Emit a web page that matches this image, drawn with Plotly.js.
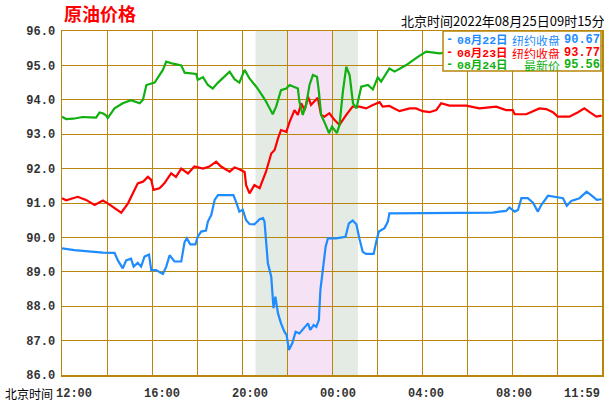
<!DOCTYPE html>
<html>
<head>
<meta charset="utf-8">
<script src="https://cdn.plot.ly/plotly-3.0.1.min.js"></script>
<style>
html,body{margin:0;padding:0;background:#fff;}
#chart{width:613px;height:410px;}
</style>
</head>
<body>
<div id="chart"></div>
<script>
// ---- data (times are minutes after 12:00 Beijing time) ----
const chartTitle = "原油价格";
const stampText = "北京时间2022年08月25日09时15分";
const axisCaption = "北京时间";
const tickMinutes = [0, 240, 480, 720, 960, 1200, 1440];
const tickLabels = ["12:00", "16:00", "20:00", "00:00", "04:00", "08:00", "11:59"];

const seriesDates = ["08月22日", "08月23日", "08月24日"];
const seriesKinds = ["纽约收盘", "纽约收盘", "最新价"];
const seriesQuotes = ["90.67", "93.77", "95.56"];

const day22Times = [0,33,109,140,149,162,171,184,191,202,211,220,232,238,251,269,278,287,300,318,327,333,342,356,362,371,384,389,398,407,416,457,464,473,482,491,500,513,527,536,540,544,549,558,562,564,569,576,584,593,599,605,614,623,633,647,656,662,671,678,685,689,696,703,709,731,756,765,775,785,793,802,811,831,838,845,860,869,873,882,1136,1149,1167,1184,1193,1207,1216,1225,1242,1256,1269,1278,1296,1309,1327,1336,1346,1358,1380,1399,1411,1426,1439];
const day22Values = [89.68,89.63,89.56,89.55,89.33,89.10,89.33,89.38,89.15,89.26,89.15,89.44,89.50,89.05,89.05,88.94,89.15,89.48,89.30,89.30,89.87,89.97,89.80,89.80,90.02,90.17,90.20,90.46,90.65,91.09,91.23,91.23,91.04,90.75,90.80,90.50,90.39,90.38,90.53,90.56,90.46,89.83,89.25,88.86,88.37,87.94,88.28,87.79,87.50,87.26,87.16,86.73,86.92,87.26,87.21,87.40,87.50,87.31,87.45,87.40,87.60,88.47,89.15,89.73,89.97,89.97,90.02,90.41,90.49,90.38,89.97,89.58,89.52,89.52,89.87,90.17,90.27,90.46,90.70,90.70,90.70,90.72,90.75,90.77,90.87,90.75,90.80,91.14,91.14,91.01,90.75,90.94,91.21,91.18,91.16,91.14,90.92,91.06,91.14,91.33,91.23,91.09,91.11];

const day23Times = [0,11,42,64,87,109,122,140,158,176,189,202,216,229,238,244,260,273,291,304,318,336,353,376,393,411,424,447,460,473,487,491,500,513,527,544,558,567,576,584,598,607,620,629,638,647,656,664,682,691,700,713,727,740,758,775,793,811,829,847,855,873,900,927,944,962,980,998,1011,1033,1078,1096,1113,1158,1184,1202,1207,1238,1256,1273,1291,1309,1322,1353,1376,1393,1407,1425,1439];
const day23Values = [91.14,91.08,91.18,91.09,90.94,91.07,90.99,90.85,90.72,90.99,91.28,91.57,91.62,91.76,91.67,91.38,91.43,91.57,91.86,91.76,92.00,91.86,92.06,92.00,92.06,92.20,92.06,91.91,92.03,91.98,91.90,91.52,91.28,91.52,91.43,91.91,92.44,92.54,92.88,93.12,93.07,93.36,93.70,93.56,93.90,93.70,94.09,93.85,94.06,93.56,93.51,93.61,93.41,93.27,93.56,93.80,93.80,93.75,93.85,93.93,93.80,93.82,93.67,93.75,93.75,93.67,93.64,93.70,93.90,93.83,93.83,93.78,93.75,93.80,93.70,93.70,93.58,93.58,93.67,93.75,93.73,93.64,93.51,93.51,93.64,93.75,93.64,93.51,93.54];

const day24Times = [0,11,30,55,75,91,100,110,118,122,140,162,184,200,207,216,225,247,260,269,278,296,318,327,358,362,376,389,402,416,447,460,473,487,500,518,536,544,562,571,584,598,607,629,633,642,651,660,669,680,685,691,703,712,720,733,740,749,758,767,776,785,798,816,829,842,851,873,887,918,949,971,1007,1040,1100,1160,1220,1300,1380,1439];
const day24Values = [93.51,93.44,93.45,93.50,93.49,93.48,93.63,93.60,93.54,93.47,93.75,93.90,93.99,93.93,93.90,94.00,94.43,94.50,94.70,94.87,95.11,95.05,95.00,94.79,94.75,94.58,94.66,94.43,94.33,94.50,94.82,94.60,94.50,94.87,94.62,94.38,94.09,93.95,93.58,93.80,94.28,94.33,94.43,94.33,93.95,93.56,93.85,94.43,94.72,94.67,94.24,93.56,93.27,93.03,93.22,93.03,93.27,94.24,94.96,94.72,93.90,93.75,94.38,94.43,94.30,94.65,94.53,94.91,94.82,95.01,95.25,95.40,95.35,95.40,95.45,95.50,95.48,95.52,95.55,95.56];

// night session shading (minutes after 12:00)
const bandStarts = [516, 600, 720];
const bandEnds = [600, 720, 789];

// ---- styling / layout ----
const W = 613, H = 410;
const M = {l: 62, r: 11, t: 31, b: 35};
const PW = W - M.l - M.r, PH = H - M.t - M.b;
const px = x => (x - M.l) / PW;
const py = y => (H - M.b - y) / PH;

const colors = ["#1e8cff", "#ff0000", "#10b010"];
const gold = "#b8860b";
const cjk = "'Noto Sans CJK SC', sans-serif";
const mono = "'Liberation Mono', 'DejaVu Sans Mono', monospace";

const timesList = [day22Times, day23Times, day24Times];
const valuesList = [day22Values, day23Values, day24Values];

const traces = timesList.map((t, i) => ({
  type: "scatter", mode: "lines", x: t, y: valuesList[i],
  line: {color: colors[i], width: 2.2}, hoverinfo: "skip", showlegend: false
}));

const bandColors = ["#e4ebe4", "#f5e2f5", "#e4ebe4"];
const shapes = bandStarts.map((s, i) => ({
  type: "rect", xref: "x", yref: "paper", x0: s, x1: bandEnds[i], y0: 0, y1: 1,
  fillcolor: bandColors[i], line: {width: 0}, layer: "below"
}));
shapes.push({
  type: "rect", xref: "paper", yref: "paper", x0: px(443), x1: px(601), y0: py(71), y1: py(31),
  fillcolor: "#ffffff", line: {color: gold, width: 1.5}, layer: "above"
});

const annotations = [];
annotations.push({xref: "paper", yref: "paper", x: px(607), y: py(21), xanchor: "right", yanchor: "middle",
  text: stampText, showarrow: false, font: {family: cjk, size: 13, color: "#000"}});
annotations.push({xref: "paper", yref: "paper", x: px(3), y: py(393), xanchor: "left", yanchor: "middle",
  text: axisCaption, showarrow: false, font: {family: cjk, size: 12, color: "#000"}});
tickLabels.forEach((lab, i) => {
  const last = i === tickLabels.length - 1;
  annotations.push({xref: "x", yref: "paper", x: tickMinutes[i], y: py(394),
    xanchor: last ? "right" : "center", yanchor: "middle", xshift: last ? 0 : 12 - 2 * i,
    text: lab, showarrow: false, font: {family: mono, size: 12, color: "#333", weight: "bold"}});
});
const rowY = [39.5, 52.5, 65.5];
seriesDates.forEach((d, i) => {
  const common = {xref: "paper", yref: "paper", y: py(rowY[i]), yanchor: "middle", showarrow: false,
    height: 12, borderpad: 0};
  annotations.push(Object.assign({}, common, {x: px(445), xanchor: "left", text: "-",
    font: {family: mono, size: 12, color: colors[i], weight: "bold"}}));
  annotations.push(Object.assign({}, common, {x: px(456), xanchor: "left", text: d,
    font: {family: mono + ", " + cjk, size: 11.5, color: colors[i], weight: "bold"}}));
  annotations.push(Object.assign({}, common, {x: px(561), xanchor: "right", text: seriesKinds[i],
    font: {family: cjk, size: 12, color: colors[i]}}));
  annotations.push(Object.assign({}, common, {x: px(601), xanchor: "right", text: seriesQuotes[i],
    font: {family: mono, size: 12, color: colors[i], weight: "bold"}}));
});

const layout = {
  width: W, height: H, margin: M,
  paper_bgcolor: "#ffffff", plot_bgcolor: "#ffffff",
  title: {text: chartTitle, xref: "container", yref: "container", x: 64 / W, xanchor: "left",
    y: 1 - 15 / H, yanchor: "middle", font: {family: cjk, size: 18, color: "#ff0000", weight: "bold"}},
  xaxis: {range: [0, 1440], tick0: 0, dtick: 120, showticklabels: false, ticks: "",
    showgrid: true, gridcolor: gold, gridwidth: 1, zeroline: false,
    showline: true, linecolor: gold, linewidth: 1.5, mirror: true, fixedrange: true},
  yaxis: {range: [86, 96], tick0: 86, dtick: 1, tickformat: ".1f", ticks: "",
    showgrid: true, gridcolor: gold, gridwidth: 1, zeroline: false,
    showline: true, linecolor: gold, linewidth: 1.5, mirror: true, fixedrange: true,
    ticklabelstandoff: 3, tickfont: {family: mono, size: 12, color: "#333", weight: "bold"}},
  shapes: shapes, annotations: annotations, showlegend: false
};

Plotly.newPlot("chart", traces, layout, {displayModeBar: false, staticPlot: true});
</script>
</body>
</html>
